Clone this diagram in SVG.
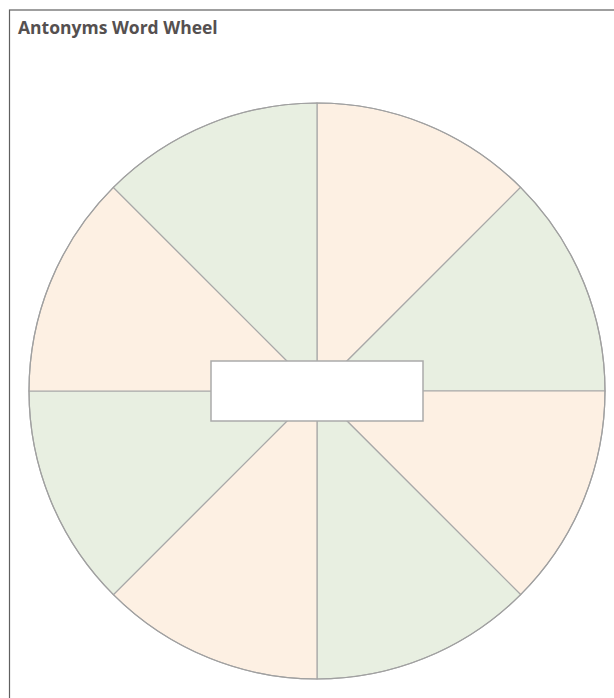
<svg xmlns="http://www.w3.org/2000/svg" width="614" height="698" viewBox="0 0 614 698">
<style>
.frame{fill:none;stroke:#606060;stroke-width:1.2}
.title{font-family:"Open Sans","Liberation Sans",sans-serif;font-weight:bold;font-size:17.5px;fill:#555050}
.peach{fill:#fdf0e3;stroke:#a8a8a8;stroke-width:1.2}
.green{fill:#e8efe1;stroke:#a8a8a8;stroke-width:1.2}
.rim{fill:none;stroke:#a0a0a0;stroke-width:1.2}
.center{fill:#ffffff;stroke:#aaaaaa;stroke-width:1.5}
</style>
<rect width="614" height="698" fill="#ffffff"/>
<rect class="frame" x="9.5" y="10" width="620" height="720"/>
<text class="title" x="18" y="34">Antonyms Word Wheel</text>
<g id="wheel">
<g id="sector-1"><path class="peach" d="M317,391 L317,103 A288,288 0 0 1 520.6,187.4 Z"/></g>
<g id="sector-2"><path class="green" d="M317,391 L520.6,187.4 A288,288 0 0 1 605,391 Z"/></g>
<g id="sector-3"><path class="peach" d="M317,391 L605,391 A288,288 0 0 1 520.6,594.6 Z"/></g>
<g id="sector-4"><path class="green" d="M317,391 L520.6,594.6 A288,288 0 0 1 317,679 Z"/></g>
<g id="sector-5"><path class="peach" d="M317,391 L317,679 A288,288 0 0 1 113.4,594.6 Z"/></g>
<g id="sector-6"><path class="green" d="M317,391 L113.4,594.6 A288,288 0 0 1 29,391 Z"/></g>
<g id="sector-7"><path class="peach" d="M317,391 L29,391 A288,288 0 0 1 113.4,187.4 Z"/></g>
<g id="sector-8"><path class="green" d="M317,391 L113.4,187.4 A288,288 0 0 1 317,103 Z"/></g>
<circle class="rim" cx="317" cy="391" r="288"/>
</g>
<g id="center-box"><rect class="center" x="211" y="361" width="212" height="60"/></g>
</svg>
